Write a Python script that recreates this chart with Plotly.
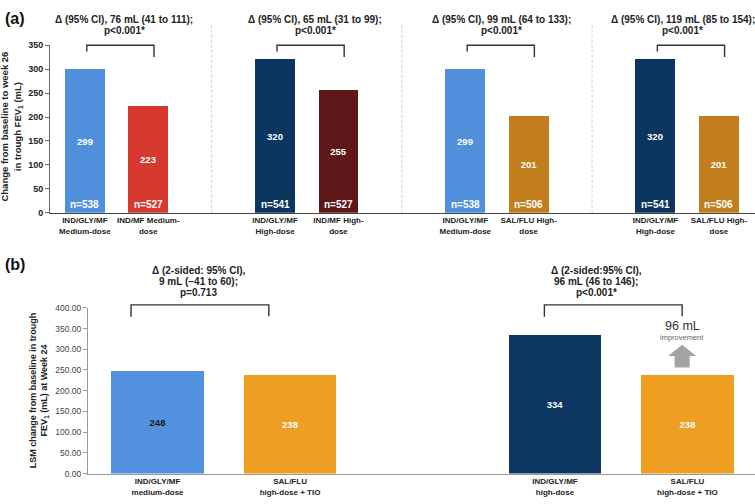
import plotly.graph_objects as go

# ---------------- Data ----------------
# Panel (a)
a_labels = ["IND/GLY/MF<br>Medium-dose", "IND/MF Medium-<br>dose",
            "IND/GLY/MF<br>High-dose", "IND/MF High-<br>dose",
            "IND/GLY/MF<br>Medium-dose", "SAL/FLU High-<br>dose",
            "IND/GLY/MF<br>High-dose", "SAL/FLU High-<br>dose"]
a_values = [299, 223, 320, 255, 299, 201, 320, 201]
a_n = [538, 527, 541, 527, 538, 506, 541, 506]
a_colors = ["#4F8FDB", "#D63A2F", "#0A365F", "#5E1619",
            "#4F8FDB", "#C27E1C", "#0A365F", "#C27E1C"]
a_deltas = ["Δ (95% CI), 76 mL (41 to 111);<br>p&lt;0.001*",
            "Δ (95% CI), 65 mL (31 to 99);<br>p&lt;0.001*",
            "Δ (95% CI), 99 mL (64 to 133);<br>p&lt;0.001*",
            "Δ (95% CI), 119 mL (85 to 154);<br>p&lt;0.001*"]
a_ticks = [0, 50, 100, 150, 200, 250, 300, 350]

# Panel (b)
b_labels = ["IND/GLY/MF<br>medium-dose", "SAL/FLU<br>high-dose + TIO",
            "IND/GLY/MF<br>high-dose", "SAL/FLU<br>high-dose + TIO"]
b_values = [248, 238, 334, 238]
b_colors = ["#5191DD", "#EE9F22", "#0B3760", "#EE9F22"]
b_text_colors = ["#1a1a1a", "white", "white", "white"]
b_deltas = ["Δ (2-sided: 95% CI),<br>9 mL (−41 to 60);<br>p=0.713",
            "Δ (2-sided:95% CI),<br>96 mL (46 to 146);<br>p&lt;0.001*"]
b_ticks = [0, 50, 100, 150, 200, 250, 300, 350, 400]
improvement_label = "96 mL"

FONT = "Arial, 'Liberation Sans', sans-serif"
W, H = 755, 504


def ppy(px):  # pixel row -> paper y
    return 1 - px / H


def ppx(px):
    return px / W


# positions: pairs separated by one empty slot
a_x = [(i // 2) * 3 + (i % 2) for i in range(len(a_values))]
b_x = [(i // 2) * 3 + (i % 2) for i in range(len(b_values))]
a_range = [-0.55, 10.57]
b_range = [-0.525, 4.51]
a_ymax, b_ymax = 350, 400

fig = go.Figure()

fig.add_trace(go.Bar(
    x=a_x, y=a_values, marker=dict(color=a_colors, line=dict(width=0)),
    width=0.63, text=[str(v) for v in a_values], textposition="inside",
    insidetextanchor="middle", textangle=0,
    textfont=dict(family=FONT, size=9.5, color="white", weight="bold"),
    xaxis="x", yaxis="y", showlegend=False, hoverinfo="skip"))

fig.add_trace(go.Bar(
    x=b_x, y=b_values, marker=dict(color=b_colors, line=dict(width=0)),
    width=0.70, text=[str(v) for v in b_values], textposition="inside",
    insidetextanchor="middle", textangle=0,
    textfont=dict(family=FONT, size=9.5, color=b_text_colors, weight="bold"),
    xaxis="x2", yaxis="y2", showlegend=False, hoverinfo="skip"))

annotations = []
shapes = []

# n= labels
for xi, n in zip(a_x, a_n):
    annotations.append(dict(x=xi, y=0, xref="x", yref="y", text=f"<b>n={n}</b>",
                            showarrow=False, yanchor="bottom", yshift=1,
                            font=dict(family=FONT, size=10, color="white")))


def fx(v, r):
    return (v - r[0]) / (r[1] - r[0])


# Panel (a) brackets and delta texts
text_offsets = [0.12, 0.13, 0.07, -0.07]
for g, txt in enumerate(a_deltas):
    left = a_x[2 * g] + 0.03
    right = a_x[2 * g + 1] + 0.09
    xl, xr = fx(left, a_range), fx(right, a_range)
    shapes.append(dict(type="path", xref="x domain", yref="y domain",
                       path=f"M {xl} 0.962 L {xl} 1.0 L {xr} 1.0 L {xr} 0.93",
                       line=dict(color="#333333", width=1.4)))
    cx = fx((a_x[2 * g] + a_x[2 * g + 1]) / 2 + text_offsets[g], a_range)
    for k, line in enumerate(txt.split("<br>")):
        annotations.append(dict(x=cx, y=ppy(15 + 11.5 * k), xref="x domain", yref="paper",
                                text=f"<b>{line}</b>", showarrow=False,
                                xanchor="center", yanchor="middle",
                                font=dict(family=FONT, size=10, color="#222222")))

# separators
for g in range(1, 4):
    sx = fx(a_x[2 * g] - 1, a_range)
    shapes.append(dict(type="line", xref="x domain", yref="y domain",
                       x0=sx, x1=sx, y0=0, y1=1.134,
                       line=dict(color="#C3D3DE", width=1, dash="3px,2px")))

# Panel (b) brackets and delta texts
b_shift = [-0.18, -0.06]
for g, txt in enumerate(b_deltas):
    cx_data = (b_x[2 * g] + b_x[2 * g + 1]) / 2 + b_shift[g]
    left = cx_data - 0.52
    right = cx_data + 0.52
    xl, xr = fx(left, b_range), fx(right, b_range)
    shapes.append(dict(type="path", xref="x2 domain", yref="y2 domain",
                       path=f"M {xl} 0.947 L {xl} 1.018 L {xr} 1.018 L {xr} 0.95",
                       line=dict(color="#333333", width=1.4)))
    tx = (b_x[2 * g] + b_x[2 * g + 1]) / 2 - 0.19
    cx = fx(tx, b_range)
    for k, line in enumerate(txt.split("<br>")):
        annotations.append(dict(x=cx, y=ppy(271 + 11.2 * k), xref="x2 domain", yref="paper",
                                text=f"<b>{line}</b>", showarrow=False,
                                xanchor="center", yanchor="middle",
                                font=dict(family=FONT, size=10, color="#222222")))

# improvement arrow over last bar
ax = b_x[3] - 0.04
base = b_values[3]
sw, hw = 0.057, 0.106
shapes.append(dict(type="path", xref="x2", yref="y2", layer="above",
                   path=(f"M {ax - sw} {base + 18} L {ax + sw} {base + 18} L {ax + sw} {base + 46} "
                         f"L {ax + hw} {base + 46} L {ax} {base + 73} L {ax - hw} {base + 46} "
                         f"L {ax - sw} {base + 46} Z"),
                   fillcolor="#A3A3A3", line=dict(width=0)))
annotations.append(dict(x=ax, y=base + 119, xref="x2", yref="y2", text=improvement_label,
                        showarrow=False, yanchor="middle",
                        font=dict(family=FONT, size=12.5, color="#333333")))
annotations.append(dict(x=ax, y=base + 91, xref="x2", yref="y2", text="improvement",
                        showarrow=False, yanchor="middle",
                        font=dict(family=FONT, size=7.5, color="#666666")))

# Y titles
annotations.append(dict(x=ppx(11), y=ppy(124), xref="paper", yref="paper",
                        text="<b>Change from baseline to week 26<br>in trough FEV<sub>1</sub> (mL)</b>",
                        textangle=-90, showarrow=False, xanchor="center", yanchor="middle",
                        font=dict(family=FONT, size=9.5, color="#222222")))
annotations.append(dict(x=ppx(39), y=ppy(393), xref="paper", yref="paper",
                        text="<b>LSM change from baseline in trough<br>FEV<sub>1</sub> (mL) at Week 24</b>",
                        textangle=-90, showarrow=False, xanchor="center", yanchor="middle",
                        font=dict(family=FONT, size=9, color="#222222")))

# Panel labels
annotations.append(dict(x=ppx(3), y=ppy(14), xref="paper", yref="paper", text="<b>(a)</b>",
                        showarrow=False, xanchor="left", yanchor="middle",
                        font=dict(family=FONT, size=16, color="#111111")))
annotations.append(dict(x=ppx(3), y=ppy(265), xref="paper", yref="paper", text="<b>(b)</b>",
                        showarrow=False, xanchor="left", yanchor="middle",
                        font=dict(family=FONT, size=16, color="#111111")))

fig.update_layout(
    width=W, height=H, margin=dict(l=0, r=0, t=0, b=0),
    paper_bgcolor="white", plot_bgcolor="white",
    font=dict(family=FONT), bargap=0,
    xaxis=dict(domain=[ppx(50), 1], range=a_range, tickvals=a_x,
               ticktext=[f"<b>{t}</b>" for t in a_labels],
               tickfont=dict(family=FONT, size=8, color="#222222"),
               showline=True, linecolor="#444444", linewidth=1, ticks="",
               showgrid=False, zeroline=False, anchor="y", fixedrange=True),
    yaxis=dict(domain=[ppy(212), ppy(41)], range=[0, a_ymax], tickvals=a_ticks,
               ticktext=[f"<b>{t}</b>" for t in a_ticks],
               tickfont=dict(family=FONT, size=9, color="#222222"),
               showline=True, linecolor="#666666", linewidth=1, ticks="outside",
               ticklen=4, tickcolor="#666666",
               showgrid=False, zeroline=False, anchor="x"),
    xaxis2=dict(domain=[ppx(88), 1], range=b_range, tickvals=b_x,
                ticktext=[f"<b>{t}</b>" for t in b_labels],
                tickfont=dict(family=FONT, size=8, color="#222222"),
                showline=True, linecolor="#999999", linewidth=1, ticks="",
                showgrid=False, zeroline=False, anchor="y2"),
    yaxis2=dict(domain=[ppy(478), ppy(309)], range=[0, b_ymax], tickvals=b_ticks,
                ticktext=[f"{t:.2f}" for t in b_ticks],
                tickfont=dict(family=FONT, size=8.5, color="#444444"),
                showline=True, linecolor="#999999", linewidth=1, ticks="outside",
                ticklen=4, tickcolor="#999999",
                showgrid=False, zeroline=False, anchor="x2"),
    annotations=annotations, shapes=shapes,
)

fig.write_html("out.html", config={"displayModeBar": False},
               post_script="document.body.style.margin='0';"
                           "document.body.style.overflow='hidden';"
                           "document.documentElement.style.overflow='hidden';")
